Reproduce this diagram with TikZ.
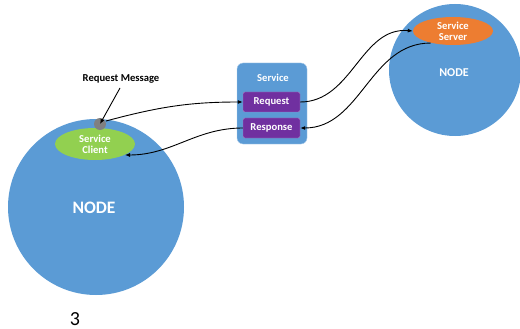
\documentclass[tikz,border=0pt]{standalone}
\usepackage{fontspec}
\setmainfont{Carlito}
\usetikzlibrary{arrows.meta,shapes.geometric}
\definecolor{nodeblue}{HTML}{5B9BD5}
\definecolor{clientgreen}{HTML}{92D050}
\definecolor{serverorange}{HTML}{ED7D31}
\definecolor{msgpurple}{HTML}{7030A0}
\newcommand{\lblfont}{\bfseries\fontsize{10.6}{12}\selectfont}
\begin{document}
\begin{tikzpicture}[x=1pt,y=-1pt,
  wire/.style={line width=0.9pt,-{Latex[length=5pt,width=4pt]}},
  msgbox/.style={fill=msgpurple,draw=msgpurple!60!white,rounded corners=2pt,minimum width=57pt,minimum height=20pt,text=white,font=\lblfont,inner sep=0pt}]
\useasboundingbox (0,0) rectangle (520,329);
% the two nodes
\fill[nodeblue] (96,207) circle (88);
\fill[nodeblue] (455,70) circle (66);
\node[font=\bfseries\fontsize{17.5}{20}\selectfont,text=white] (nodeL) at (94,208) {NODE};
\node[font=\bfseries\fontsize{12}{14}\selectfont,text=white] (nodeR) at (454,73) {NODE};
\node[ellipse,fill=clientgreen,minimum width=80pt,minimum height=32pt,inner sep=0pt,text=white,font=\lblfont,align=center] (client) at (95,144) {Service\\[-1pt]Client};
\node[ellipse,fill=serverorange,minimum width=80pt,minimum height=28pt,inner sep=0pt,text=white,font=\lblfont,align=center] (server) at (453,31) {Service\\[-1pt]Server};
\fill[gray] (100,124) circle (6) coordinate (dot);
% service block
\node[fill=nodeblue,draw=nodeblue!50!white,rounded corners=6pt,minimum width=70pt,minimum height=81pt] (service) at (272,103.5) {};
\node[text=white,font=\lblfont] (servlbl) at (273,78) {Service};
\node[msgbox] (req) at (271.5,102) {Request};
\node[msgbox] (resp) at (271.5,128) {Response};
\node[font=\lblfont] (reqmsg) at (121,79) {Request Message};
\draw[wire] (120,88) -- (dot);
% messages
\draw[wire] (106,121) to[out=15,in=180] (req.west);
\draw[wire] (req.east) to[out=0,in=175] (server.west);
\draw[wire] (server.south west) ++(6,2) to[out=180,in=0] (resp.east);
\draw[wire] (resp.west) to[out=180,in=0] (125,155);
\node[font=\fontsize{20}{22}\selectfont] (pagenum) at (75,319) {3};
\end{tikzpicture}
\end{document}
